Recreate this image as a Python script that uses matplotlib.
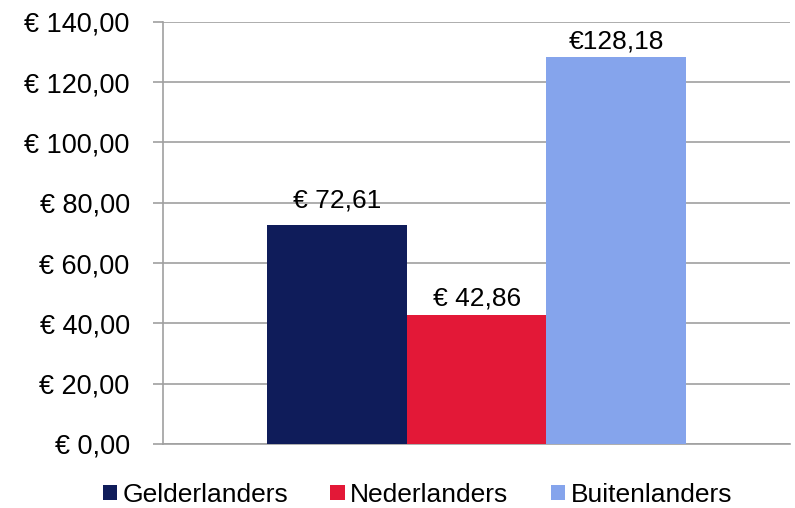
import matplotlib.pyplot as plt
from matplotlib.ticker import FuncFormatter

plt.rcParams['font.family'] = ['Liberation Sans', 'DejaVu Sans']

# --- Data ---
groups = ['Gelderlanders', 'Nederlanders', 'Buitenlanders']
values = [72.61, 42.86, 128.18]
value_labels = ['€ 72,61', '€ 42,86', '€128,18']
colors = ['#0F1C5A', '#E31837', '#85A4EC']

fig = plt.figure(figsize=(7.95, 5.08), dpi=100)
ax = fig.add_axes([0.205, 0.126, 0.789, 0.831])

width = 0.2225
offsets = [-width, 0.0, width]
label_pads = [9, 3, 3]
grid_col = '#A0A0A0'

for name, val, lab, col, off, pad in zip(groups, values, value_labels, colors, offsets, label_pads):
    bars = ax.bar(off, val, width=width, color=col, label=name, zorder=3)
    ax.bar_label(bars, labels=[lab], padding=pad, fontsize=19)

ax.set_xlim(-0.5, 0.5)
ax.set_ylim(0, 140)
ax.set_yticks(range(0, 141, 20))
ax.yaxis.set_major_formatter(FuncFormatter(lambda v, p: f'€ {v:.2f}'.replace('.', ',')))
ax.set_xticks([])
ax.grid(axis='y', color=grid_col, linewidth=1.2, zorder=0)
ax.tick_params(axis='y', labelsize=19.5, length=7, width=1.2, color=grid_col, pad=17)

for s in ['top', 'right']:
    ax.spines[s].set_visible(False)
for s in ['left', 'bottom']:
    ax.spines[s].set_color(grid_col)
    ax.spines[s].set_linewidth(1.2)

fig.legend(loc='center', bbox_to_anchor=(0.525, 0.026), ncol=3, frameon=False,
           fontsize=19, handlelength=0.55, handleheight=0.55, handletextpad=0.2,
           columnspacing=1.6)

fig.savefig('out.png', dpi=100)
